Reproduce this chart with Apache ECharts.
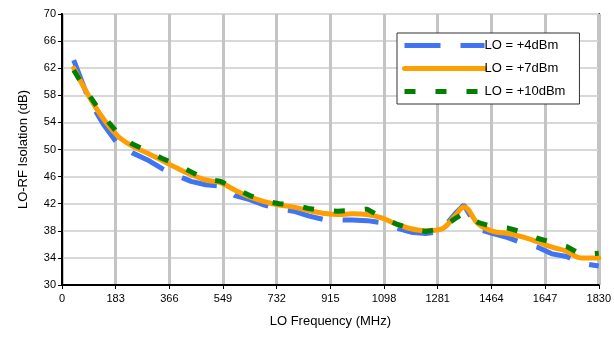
<!DOCTYPE html>
<html><head><meta charset="utf-8">
<script src="https://cdn.jsdelivr.net/npm/echarts@6/dist/echarts.min.js"></script>
<style>html,body{margin:0;padding:0;background:#fff}#c{width:614px;height:343px}</style>
</head><body><div id="c"></div>
<script>
const freqs = [40,90,140,190,240,290,340,390,440,490,540,590,640,690,740,790,840,890,940,990,1040,1090,1140,1190,1240,1290,1340,1370,1420,1470,1520,1570,1620,1670,1720,1770,1830];
const lo4 = [63.2,57.5,53.8,50.8,49.5,48.5,47.2,46.2,45.3,44.8,44.6,43.2,42.6,41.8,41.2,40.9,40.2,39.7,39.6,39.6,39.5,39.2,38.4,37.8,37.6,37.9,40.5,41.8,38.2,37.6,37.0,36.2,35.6,34.6,34.2,33.2,32.8];
const lo7 = [62.0,58.0,54.6,52.0,50.5,49.5,48.4,47.3,46.3,45.5,45.1,44.0,43.0,42.3,41.8,41.5,41.0,40.6,40.4,40.5,40.4,39.9,39.0,38.3,38.0,38.2,40.2,41.5,39.0,37.9,37.6,37.1,36.4,35.6,35.0,34.0,34.0];
const lo10 = [61.7,58.2,55.0,52.4,50.8,49.8,48.7,47.8,46.7,45.6,45.3,44.3,43.2,42.4,42.0,41.8,41.3,41.0,40.9,41.0,41.2,40.0,39.0,38.3,37.9,38.3,39.8,40.6,39.2,38.6,38.4,37.8,36.9,36.3,35.7,34.5,34.7];
const seriesNames = ['LO = +4dBm','LO = +7dBm','LO = +10dBm'];
const xTicks = [0,183,366,549,732,915,1098,1281,1464,1647,1830];
const yTicks = [30,34,38,42,46,50,54,58,62,66,70];

const pair = a => freqs.map((f,i)=>[f,a[i]]);
const chart = echarts.init(document.getElementById('c'));
const font = 'Liberation Sans, Arial, sans-serif';
chart.setOption({
  animation:false,
  textStyle:{fontFamily:font},
  grid:{left:62,right:13,top:14,bottom:58,show:true,borderColor:'#000',borderWidth:2,backgroundColor:'transparent'},
  legend:{
    data:seriesNames, orient:'vertical', left:397, top:33,
    backgroundColor:'#fff', borderColor:'#333', borderWidth:1,
    padding:[6,14,6,5], itemGap:10, itemWidth:80, itemHeight:12,
    itemStyle:{opacity:0},
    lineStyle:{width:5},
    textStyle:{fontFamily:font,fontSize:13,color:'#000',padding:[0,0,0,-5]}
  },
  xAxis:{
    type:'value', min:0, max:1830, interval:183,
    name:'LO Frequency (MHz)', nameLocation:'middle', nameGap:30,
    nameTextStyle:{fontFamily:font,fontSize:13,color:'#000'},
    axisLine:{lineStyle:{color:'#000',width:2}},
    axisTick:{length:4,lineStyle:{color:'#000',width:1}},
    axisLabel:{fontFamily:font,fontSize:11,color:'#000',margin:8,formatter:v=>String(v)},
    splitLine:{show:true,lineStyle:{color:'#c4c4c4',width:3}}
  },
  yAxis:{
    type:'value', min:30, max:70, interval:4,
    name:'LO-RF Isolation (dB)', nameLocation:'middle', nameGap:32,
    nameTextStyle:{fontFamily:font,fontSize:13,color:'#000'},
    axisLine:{show:true,lineStyle:{color:'#000',width:2}},
    axisTick:{show:true,length:4,lineStyle:{color:'#000',width:1}},
    axisLabel:{fontFamily:font,fontSize:11,color:'#000',margin:6},
    splitLine:{show:true,lineStyle:{color:'#d8d8d8',width:2}}
  },
  series:[
    {name:seriesNames[0],type:'line',data:pair(lo4),showSymbol:false,symbol:'none',
     lineStyle:{color:'#3f74f4',width:5,type:[36,20]},itemStyle:{color:'#3f74f4'},z:2},
    {name:seriesNames[1],type:'line',data:pair(lo7),showSymbol:false,symbol:'none',smooth:0.4,
     lineStyle:{color:'#ff9e00',width:5,cap:'round',join:'round'},itemStyle:{color:'#ff9e00'},z:3},
    {name:seriesNames[2],type:'line',data:pair(lo10),showSymbol:false,symbol:'none',
     lineStyle:{color:'#007f00',width:5,type:[11,20]},itemStyle:{color:'#007f00'},z:4}
  ]
});
</script></body></html>
